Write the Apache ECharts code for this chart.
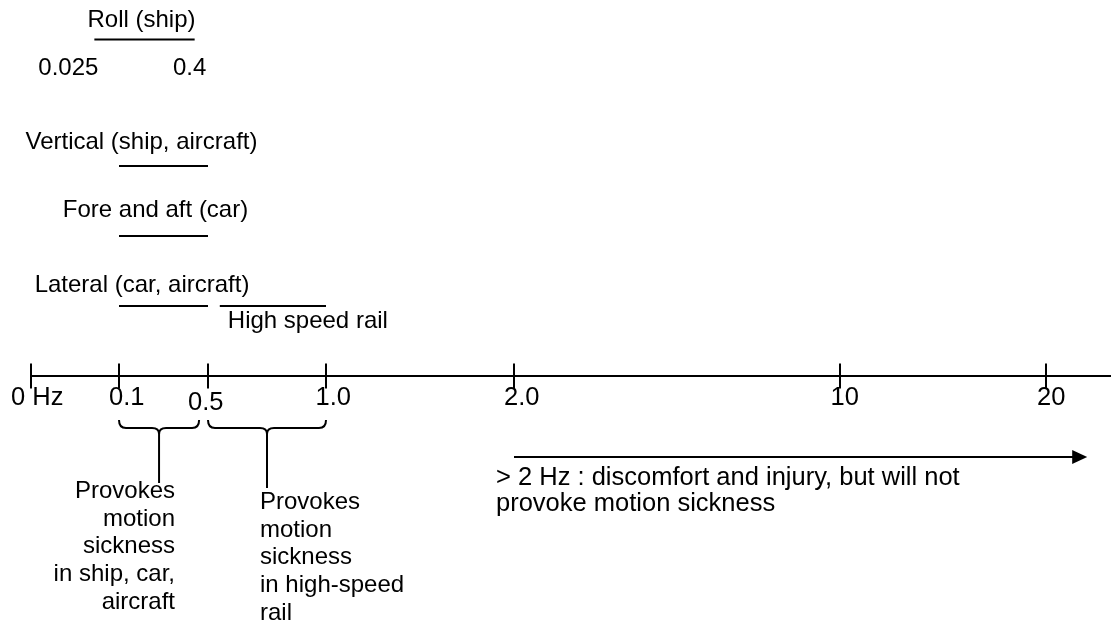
<!DOCTYPE html>
<html><head><meta charset="utf-8">
<script src="https://cdn.jsdelivr.net/npm/echarts@6/dist/echarts.min.js"></script>
<style>html,body{margin:0;padding:0;background:#fff}#c{width:1111px;height:624px}</style>
</head><body><div id="c"></div>
<script>
// ---- data ----
// schematic (non-linear) frequency axis
const tickFreqs = [0, 0.1, 0.5, 1.0, 2.0, 10, 20];
const tickLabels = ['0 Hz', '0.1', '0.5', '1.0', '2.0', '10', '20'];
const tickSlots = [0, 88, 177, 295, 483, 809, 1015];
// motion bands, Hz as drawn
const motionNames = ['Roll (ship)', 'Vertical (ship, aircraft)', 'Fore and aft (car)', 'Lateral (car, aircraft)', 'High speed rail'];
const motionFrom = [0.072, 0.1, 0.1, 0.1, 0.55];
const motionTo = [0.44, 0.5, 0.5, 0.5, 1.0];
const rollLimitLabels = ['0.025', '0.4'];
// motion-sickness ranges (braces)
const sicknessFrom = [0.1, 0.5];
const sicknessTo = [0.46, 1.0];
const sicknessNotes = ['Provokes\nmotion\nsickness\nin ship, car,\naircraft', 'Provokes\nmotion\nsickness\nin high-speed\nrail'];
// > 2 Hz arrow
const arrowFrom = 2.0;
const arrowTo = 22;
const arrowNote = '> 2 Hz : discomfort and injury, but will not\nprovoke motion sickness';

// ---- layout / style ----
const FAMILY = '"Liberation Sans", Arial, sans-serif';
const F = s => s + 'px ' + FAMILY;
const INK = '#000';
const LW = 2;
const L = {
  axisY: 376, tickHalf: 12.5, tickLabelY: 398, tickFont: 25.5,
  motionRows: [39.5, 166, 236, 306, 306],
  motionText: [
    {dx: -3, dy: -19.5, align: 'center', ref: 'mid', size: 24},
    {dx: -22, dy: -24, align: 'center', ref: 'mid', size: 24},
    {dx: -8, dy: -26, align: 'center', ref: 'mid', size: 24},
    {dx: -21.5, dy: -21, align: 'center', ref: 'mid', size: 24},
    {dx: 8, dy: 15, align: 'left', ref: 'start', size: 24}
  ],
  rollLimitDx: [-26, -5], rollLimitDy: 28.5, rollLimitFont: 24,
  tickLabelDx: [-20, -10, -20, -10.5, -10, -9.5, -9],
  tickLabelDy: [0, 0, 5, 0, 0, 0, 0],
  braceTop: 420, braceBar: 428, braceTip: 434, stemEnd: [483, 488],
  noteX: [175, 260], noteTop: [477.5, 488.5], noteAlign: ['right', 'left'], noteLH: 27.7, noteFont: 24,
  arrowY: 457, arrowHead: 15, arrowHalf: 7, arrowTextDx: -18, arrowTextTop: 464.5, arrowLH: 26, arrowFont: 25.5
};

function slot(f) {
  const n = tickFreqs.length;
  for (let i = 0; i < n - 1; i++) {
    if (f <= tickFreqs[i + 1] || i === n - 2) {
      const t = (f - tickFreqs[i]) / (tickFreqs[i + 1] - tickFreqs[i]);
      return tickSlots[i] + t * (tickSlots[i + 1] - tickSlots[i]);
    }
  }
}

const chart = echarts.init(document.getElementById('c'), null, {renderer: 'canvas'});
const X_MAX = 1080;

function txt(x, y, text, align, vAlign, size, lh) {
  const s = {text, fill: INK, font: F(size), align, verticalAlign: vAlign};
  if (lh) s.lineHeight = lh;
  return {type: 'text', x, y, style: s};
}
function seg(a, b, w) {
  return {type: 'line', shape: {x1: a[0], y1: a[1], x2: b[0], y2: b[1]}, style: {stroke: INK, lineWidth: w || LW}};
}

const option = {
  animation: false,
  backgroundColor: '#fff',
  grid: {left: 31, right: 0, top: 0, bottom: 0},
  xAxis: {type: 'value', min: 0, max: X_MAX, show: false},
  yAxis: {type: 'value', min: 0, max: 624, inverse: true, show: false},
  series: [
    { // main axis line + ticks + tick labels
      type: 'custom', clip: false, silent: true,
      data: tickFreqs.map((f, i) => [slot(f), i]),
      renderItem: function (params, api) {
        const i = api.value(1);
        const p = api.coord([api.value(0), L.axisY]);
        const children = [
          seg([p[0], p[1] - L.tickHalf], [p[0], p[1] + L.tickHalf]),
          txt(p[0] + L.tickLabelDx[i], api.coord([0, L.tickLabelY])[1] + L.tickLabelDy[i], tickLabels[i], 'left', 'middle', L.tickFont)
        ];
        if (i === 0) {
          const e = api.coord([X_MAX, L.axisY]);
          children.push(seg(p, [e[0] + 2, e[1]]));
        }
        return {type: 'group', children};
      }
    },
    { // motion bands
      type: 'custom', clip: false, silent: true,
      data: motionNames.map((n, i) => [slot(motionFrom[i]), slot(motionTo[i]), i]),
      renderItem: function (params, api) {
        const i = api.value(2);
        const y = L.motionRows[i];
        const a = api.coord([api.value(0), y]);
        const b = api.coord([api.value(1), y]);
        const t = L.motionText[i];
        const rx = t.ref === 'mid' ? (a[0] + b[0]) / 2 : a[0];
        const children = [seg(a, b), txt(rx + t.dx, a[1] + t.dy, motionNames[i], t.align, 'middle', t.size)];
        if (i === 0) {
          children.push(txt(a[0] + L.rollLimitDx[0], a[1] + L.rollLimitDy, rollLimitLabels[0], 'center', 'middle', L.rollLimitFont));
          children.push(txt(b[0] + L.rollLimitDx[1], a[1] + L.rollLimitDy, rollLimitLabels[1], 'center', 'middle', L.rollLimitFont));
        }
        return {type: 'group', children};
      }
    },
    { // braces + notes
      type: 'custom', clip: false, silent: true,
      data: sicknessFrom.map((f, i) => [slot(f), slot(sicknessTo[i]), i]),
      renderItem: function (params, api) {
        const i = api.value(2);
        const a = api.coord([api.value(0), L.braceTop])[0];
        const b = api.coord([api.value(1), L.braceTop])[0];
        const m = (a + b) / 2;
        const yT = api.coord([0, L.braceTop])[1], yB = api.coord([0, L.braceBar])[1], yP = api.coord([0, L.braceTip])[1];
        const r = 7;
        const d = 'M' + a + ',' + yT + ' Q' + a + ',' + yB + ' ' + (a + r) + ',' + yB +
          ' L' + (m - r) + ',' + yB + ' Q' + m + ',' + yB + ' ' + m + ',' + yP +
          ' Q' + m + ',' + yB + ' ' + (m + r) + ',' + yB +
          ' L' + (b - r) + ',' + yB + ' Q' + b + ',' + yB + ' ' + b + ',' + yT;
        const yS = api.coord([0, L.stemEnd[i]])[1];
        return {type: 'group', children: [
          {type: 'path', shape: {pathData: d}, style: {stroke: INK, lineWidth: LW, fill: null}},
          seg([m, yP - 1], [m, yS]),
          txt(api.coord([L.noteX[i] - 31, 0])[0], api.coord([0, L.noteTop[i]])[1], sicknessNotes[i], L.noteAlign[i], 'top', L.noteFont, L.noteLH)
        ]};
      }
    },
    { // > 2 Hz arrow
      type: 'custom', clip: false, silent: true,
      data: [[slot(arrowFrom), slot(arrowTo)]],
      renderItem: function (params, api) {
        const a = api.coord([api.value(0), L.arrowY]);
        const b = api.coord([api.value(1), L.arrowY]);
        return {type: 'group', children: [
          seg(a, [b[0] - L.arrowHead + 1, b[1]]),
          {type: 'polygon', shape: {points: [[b[0] - L.arrowHead, b[1] - L.arrowHalf], [b[0], b[1]], [b[0] - L.arrowHead, b[1] + L.arrowHalf]]}, style: {fill: INK}},
          txt(a[0] + L.arrowTextDx, api.coord([0, L.arrowTextTop])[1], arrowNote, 'left', 'top', L.arrowFont, L.arrowLH)
        ]};
      }
    }
  ]
};
chart.setOption(option);
</script>
</body></html>
